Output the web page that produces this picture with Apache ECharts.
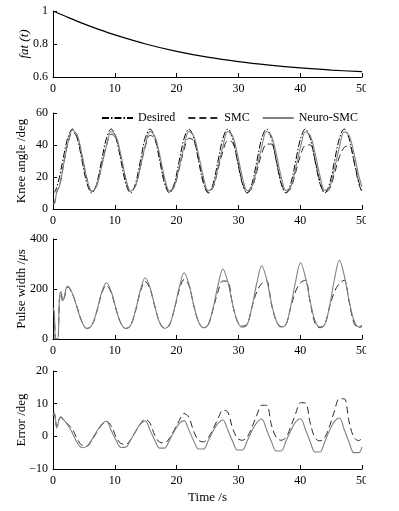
<!DOCTYPE html>
<html>
<head>
<meta charset="utf-8">
<script src="https://cdn.jsdelivr.net/npm/echarts@6.0.0/dist/echarts.min.js"></script>
<style>
  html, body { margin: 0; padding: 0; background: #fff; }
  #chart { width: 399px; height: 511px; }
</style>
</head>
<body>
<div id="chart"></div>
<script>
// fatigue curve
const fatTime = [0, 2.5, 5, 7.5, 10, 15, 20, 25, 30, 35, 40, 45, 50];
const fatigue = [1, 0.96, 0.922, 0.887, 0.855, 0.8, 0.755, 0.72, 0.693, 0.672, 0.655, 0.642, 0.632];

// shared time samples (s)
const time = [0, 0.2, 0.4, 0.6, 0.79, 1.05, 1.3, 1.57, 1.85, 2.1, 2.36,
  3.14, 3.93, 4.71, 5.50,
  6.28, 7.07, 7.85, 8.64, 9.42, 10.21, 11.00, 11.78,
  12.57, 13.35, 14.14, 14.92, 15.71, 16.49, 17.28, 18.06,
  18.85, 19.63, 20.42, 21.21, 21.99, 22.78, 23.56, 24.35,
  25.13, 25.92, 26.70, 27.49, 28.27, 29.06, 29.85, 30.63,
  31.42, 32.20, 32.99, 33.77, 34.56, 35.34, 36.13, 36.91,
  37.70, 38.48, 39.27, 40.06, 40.84, 41.63, 42.41, 43.20,
  43.98, 44.77, 45.55, 46.34, 47.12, 47.91, 48.69, 49.48,
  50.00];

// knee angle (deg)
const kneeDesired = [10, 10.4, 11.6, 13.5, 15.9, 19.9, 24.7, 30, 35.5, 40.1, 44.1,
  50, 44.1, 30, 15.9,
  10, 15.9, 30, 44.1, 50, 44.1, 30, 15.9,
  10, 15.9, 30, 44.1, 50, 44.1, 30, 15.9,
  10, 15.9, 30, 44.1, 50, 44.1, 30, 15.9,
  10, 15.9, 30, 44.1, 50, 44.1, 30, 15.9,
  10, 15.9, 30, 44.1, 50, 44.1, 30, 15.9,
  10, 15.9, 30, 44.1, 50, 44.1, 30, 15.9,
  10, 15.9, 30, 44.1, 50, 44.1, 30, 15.9,
  10.7];
const kneeSMC = [3.5, 3.4, 6.6, 10.5, 12.1, 14.4, 18.9, 24.8, 30.8, 35.8, 40.3,
  47.8, 44.9, 32.8, 18.9,
  11.2, 14.7, 26.6, 39.5, 46.8, 44.3, 32.2, 18.3,
  11.0, 14.5, 26.2, 38.8, 46.0, 43.9, 31.8, 17.9,
  10.6, 13.9, 25.2, 37.1, 44.2, 42.6, 31.2, 17.6,
  10.4, 13.6, 24.6, 36.1, 42.5, 41.6, 30.6, 17.1,
  10.2, 13.1, 23.5, 34.6, 40.5, 40.6, 30.3, 17.1,
  10.3, 12.9, 23.0, 33.8, 39.8, 40.1, 30.5, 17.3,
  10.3, 12.7, 22.2, 32.6, 38.5, 39.6, 30.3, 17.2,
  11.3];
const kneeNeuro = [3.7, 3.2, 6.1, 10.9, 12.4, 14.3, 18.7, 24.6, 30.7, 35.8, 40.5,
  49.2, 46.1, 33.5, 18.9,
  11.0, 14.4, 26.4, 39.5, 48.6, 45.3, 33.4, 19.2,
  11.1, 14.4, 26.3, 39.4, 48.5, 45.4, 33.6, 19.5,
  11.2, 14.3, 26.1, 39.3, 48.5, 45.5, 33.9, 19.8,
  11.3, 14.2, 26.0, 39.1, 48.4, 45.6, 34.2, 20.1,
  11.4, 14.1, 25.8, 38.8, 48.4, 45.7, 34.5, 20.4,
  11.5, 14.1, 25.6, 38.7, 48.3, 45.8, 34.8, 20.7,
  11.6, 14.0, 25.4, 38.5, 48.3, 45.9, 35.0, 20.9,
  13.9];

// pulse width (us)
const pulseSMC = [105, 100, 0, 0, 0, 160, 185, 150, 165, 195, 208,
  180, 125, 68, 42,
  55, 108, 180, 215, 185, 118, 62, 42,
  55, 112, 190, 230, 200, 128, 65, 43,
  57, 118, 195, 238, 215, 133, 68, 45,
  58, 122, 190, 232, 230, 138, 70, 52,
  58, 128, 190, 222, 232, 140, 72, 50,
  58, 128, 192, 225, 235, 145, 62, 45,
  58, 130, 190, 222, 235, 150, 65, 45,
  50];
const pulseNeuro = [125, 110, 0, 0, 0, 165, 190, 155, 170, 200, 212,
  182, 122, 66, 42,
  55, 110, 185, 225, 190, 120, 62, 42,
  55, 115, 195, 245, 205, 130, 65, 43,
  57, 120, 205, 265, 220, 135, 68, 45,
  58, 125, 215, 280, 230, 140, 70, 47,
  58, 130, 225, 293, 240, 145, 72, 48,
  58, 132, 232, 305, 248, 150, 72, 48,
  58, 135, 240, 315, 255, 155, 75, 48,
  55];

// tracking error (deg)
const errSMC = [6.5, 7.0, 5.0, 3.0, 3.8, 5.5, 5.8, 5.2, 4.7, 4.3, 3.8,
  2.2, -0.8, -2.8, -3.0,
  -1.2, 1.2, 3.4, 4.6, 3.2, -0.2, -2.2, -2.4,
  -1.0, 1.4, 3.8, 5.3, 4.0, 0.2, -1.8, -2.0,
  -0.6, 2.0, 4.8, 7.0, 5.8, 1.5, -1.2, -1.7,
  -0.4, 2.3, 5.4, 8.0, 7.5, 2.5, -0.6, -1.2,
  -0.2, 2.8, 6.5, 9.5, 9.5, 3.5, -0.3, -1.2,
  -0.3, 3.0, 7.0, 10.3, 10.2, 4.0, -0.5, -1.4,
  -0.3, 3.2, 7.8, 11.5, 11.5, 4.5, -0.3, -1.3,
  -0.6];
const errNeuro = [6.3, 7.2, 5.5, 2.6, 3.5, 5.6, 6.0, 5.4, 4.8, 4.3, 3.6,
  1.0, -2.0, -3.5, -3.0,
  -1.0, 1.5, 3.6, 4.6, 1.8, -1.2, -3.4, -3.3,
  -1.1, 1.5, 3.7, 4.7, 1.9, -1.3, -3.6, -3.6,
  -1.2, 1.6, 3.9, 4.8, 1.9, -1.4, -3.9, -3.9,
  -1.3, 1.7, 4.0, 5.0, 2.0, -1.5, -4.2, -4.2,
  -1.4, 1.8, 4.2, 5.3, 2.0, -1.6, -4.5, -4.5,
  -1.5, 1.8, 4.4, 5.4, 2.1, -1.7, -4.8, -4.8,
  -1.6, 1.9, 4.6, 5.6, 2.1, -1.8, -5.0, -5.0,
  -3.2];

const FONT = 'Liberation Serif';
const pair = (xs, ys) => xs.map((x, i) => [x, ys[i]]);

function xAxis(idx, name) {
  return {
    type: 'value', gridIndex: idx, min: 0, max: 50, interval: 10,
    name: name || '', nameLocation: 'middle', nameGap: 22,
    nameTextStyle: { color: '#000', fontFamily: FONT, fontSize: 13 },
    axisLine: { show: true, onZero: false, lineStyle: { color: '#000', width: 1 } },
    axisTick: { show: true, inside: true, length: 4, lineStyle: { color: '#000' } },
    axisLabel: { color: '#000', fontFamily: FONT, fontSize: 12, margin: 6 },
    splitLine: { show: false }
  };
}
function yAxis(idx, min, max, interval, name, extra) {
  return Object.assign({
    type: 'value', gridIndex: idx, min, max, interval,
    name, nameLocation: 'middle', nameGap: 25, nameMoveOverlap: false,
    nameTextStyle: { color: '#000', fontFamily: FONT, fontSize: 13 },
    axisLine: { show: true, onZero: false, lineStyle: { color: '#000', width: 1 } },
    axisTick: { show: true, inside: true, length: 4, lineStyle: { color: '#000' } },
    axisLabel: { color: '#000', fontFamily: FONT, fontSize: 12, margin: 5,
      formatter: v => String(v).replace('-', '\u2212') },
    splitLine: { show: false }
  }, extra || {});
}
function line(name, idx, data, color, type, width) {
  return {
    name, type: 'line', xAxisIndex: idx, yAxisIndex: idx, data,
    symbol: 'none', smooth: 0.35,
    lineStyle: { color, type, width }, itemStyle: { color }
  };
}

const dashDot = [7, 2, 1.5, 2];
const dash = [7, 4];
const GREY = '#808080';
const DARK = '#2a2a2a';

const chart = echarts.init(document.getElementById('chart'));
chart.setOption({
  animation: false,
  backgroundColor: '#fff',
  grid: [
    { left: 53, right: 37, top: 11, height: 66 },
    { left: 53, right: 37, top: 113, height: 96 },
    { left: 53, right: 37, top: 239, height: 100 },
    { left: 53, right: 37, top: 371, height: 98 }
  ],
  legend: {
    data: ['Desired', 'SMC', 'Neuro-SMC'],
    right: 36, top: 107, itemWidth: 31, itemHeight: 10, itemGap: 12,
    itemStyle: { opacity: 0 },
    textStyle: { color: '#000', fontFamily: FONT, fontSize: 12 }
  },
  xAxis: [xAxis(0), xAxis(1), xAxis(2), xAxis(3, 'Time /s')],
  yAxis: [
    yAxis(0, 0.6, 1, 0.2, 'fat (t)', { nameTextStyle: { color: '#000', fontFamily: FONT, fontSize: 13, fontStyle: 'italic' }, nameGap: 22 }),
    yAxis(1, 0, 60, 20, 'Knee angle /deg'),
    yAxis(2, 0, 400, 200, 'Pulse width /{i|\u03bc}s', {
      nameTextStyle: { color: '#000', fontFamily: FONT, fontSize: 13,
        rich: { i: { fontFamily: FONT, fontSize: 13, fontStyle: 'italic', color: '#000' } } }
    }),
    yAxis(3, -10, 20, 10, 'Error /deg')
  ],
  series: [
    line('fat', 0, pair(fatTime, fatigue), '#000', 'solid', 1.2),
    line('Desired', 1, pair(time, kneeDesired), '#000', dashDot, 1),
    line('SMC', 1, pair(time, kneeSMC), DARK, dash, 1),
    line('Neuro-SMC', 1, pair(time, kneeNeuro), GREY, 'solid', 1.1),
    line('SMC ', 2, pair(time, pulseSMC), DARK, dash, 1),
    line('Neuro-SMC ', 2, pair(time, pulseNeuro), GREY, 'solid', 1.1),
    line('SMC  ', 3, pair(time, errSMC), DARK, dash, 1),
    line('Neuro-SMC  ', 3, pair(time, errNeuro), GREY, 'solid', 1.1)
  ],
  graphic: [
    // the source figure is cropped just right of the last tick label
    { type: 'rect', left: 366, top: 0, shape: { width: 33, height: 511 }, style: { fill: '#fff' }, z: 100 }
  ]
});
</script>
</body>
</html>
